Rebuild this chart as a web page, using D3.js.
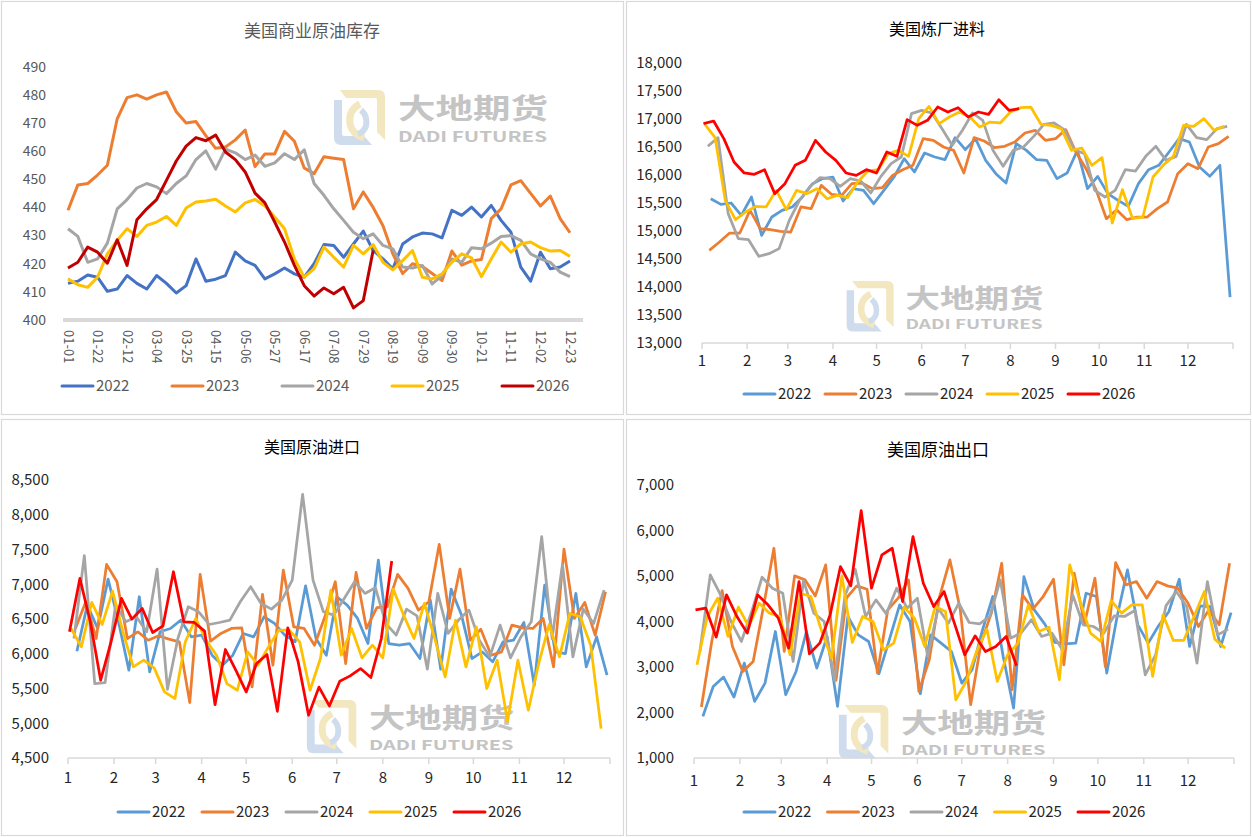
<!DOCTYPE html>
<html>
<head>
<meta charset="utf-8">
<script src="https://cdn.jsdelivr.net/npm/d3@7"></script>
<style>
  body { margin: 0; background: #fff; }
  text { font-family: "Noto Sans CJK SC", "Noto Sans", sans-serif; }
</style>
</head>
<body>
<svg id="chart" width="1252" height="837"></svg>
<script>
// ---- data ----
var years = ["2022", "2023", "2024", "2025", "2026"];
// first weekly report (Friday) of each year, used to place points on the date axis
var firstWeek = ["2022-01-07", "2023-01-06", "2024-01-05", "2025-01-03", "2026-01-02"];
var months = ["1", "2", "3", "4", "5", "6", "7", "8", "9", "10", "11", "12"];

// 美国商业原油库存 (百万桶)
var stocks2022 = [413, 413.8, 416, 415.2, 410.2, 411, 415.8, 413, 411, 415.8, 413, 409.6, 412.2, 421.7, 413.8, 414.5, 415.8, 424.1, 421, 419.4, 414.6, 416.4, 418.5, 416.4, 415.2, 420, 426.8, 426.5, 422.3, 427, 431.6, 424.7, 421.7, 418.2, 427, 429.5, 430.9, 430.6, 429.2, 439, 437.2, 440.1, 436.6, 440.7, 435.4, 431.2, 418.8, 413.8, 424.1, 418.2, 418.8, 421];
var stocks2023 = [439, 448, 448.5, 451.5, 455, 471.5, 479, 480, 478.5, 480, 481, 474, 470, 470.5, 465.5, 461, 461.5, 464, 467.5, 454.5, 459, 459, 467, 463.5, 454, 452, 458, 457.5, 457, 439.5, 445.5, 440, 433.5, 423.5, 416.5, 420, 419, 416.5, 414, 424.5, 419.5, 421, 421.5, 436, 439.5, 448, 449.5, 445, 440.5, 444, 436, 431];
var stocks2024 = [432.4, 429.7, 420.5, 421.7, 427.3, 439.5, 442.8, 446.9, 448.5, 447.3, 444.9, 448.5, 451.2, 457, 460.1, 453.6, 460.7, 459.4, 457, 458.6, 454.6, 455.8, 459.1, 457, 460.5, 448.5, 444.3, 439.5, 435.4, 431.2, 428.9, 430.6, 426.5, 425.3, 418.8, 418.5, 419.4, 412.8, 415.8, 421.7, 420.5, 425.7, 425.3, 427.3, 429.7, 430, 428.3, 423.5, 421.7, 420.5, 417, 415.4];
var stocks2025 = [414.6, 412.5, 411.6, 415.2, 423.5, 428.3, 432.4, 429.7, 433.6, 434.8, 436.8, 433.6, 439.8, 441.9, 442.3, 442.9, 440.5, 438.4, 441.6, 442.8, 440.5, 436.6, 432.4, 421.7, 415.2, 418.2, 425.9, 422.3, 418.8, 426.5, 423.5, 426.8, 420.5, 417.8, 421.1, 424.7, 415.2, 414.6, 416.4, 420.5, 423.5, 422.1, 415.4, 421.7, 427.7, 424.1, 427, 427.7, 425.7, 424.5, 424.7, 422.6];
var stocks2026 = [418.5, 420.5, 425.9, 424.1, 420.2, 428.5, 419.4, 435.6, 439.5, 442.8, 449.6, 456.5, 461.8, 464.8, 463.7, 465.7, 459.7, 457, 452.6, 445.1, 441.6, 434.8, 427.7, 419.4, 412.2, 408.5, 411.4, 409.3, 411.6, 404.3, 406.9, 424.7];

// 美国炼厂进料 (千桶/日)
var runs2022 = [15577, 15476, 15500, 15280, 15607, 14923, 15250, 15369, 15429, 15607, 15845, 15935, 15964, 15536, 15756, 15726, 15488, 15726, 15964, 16292, 16054, 16393, 16321, 16274, 16667, 16452, 16649, 16262, 16024, 15857, 16560, 16440, 16274, 16262, 15935, 16036, 16440, 15756, 15976, 15667, 15548, 15440, 15845, 16095, 16173, 16411, 16649, 16590, 16143, 15976, 16173, 13821];
var runs2023 = [14655, 14804, 14964, 14964, 15369, 15042, 15024, 14994, 14982, 15429, 15399, 15815, 15655, 15637, 15845, 15857, 15756, 15774, 15994, 16095, 16173, 16649, 16619, 16500, 16440, 16036, 16667, 16607, 16488, 16512, 16590, 16750, 16798, 16619, 16649, 16810, 16411, 16113, 15726, 15220, 15381, 15202, 15250, 15250, 15399, 15518, 16024, 16202, 16113, 16500, 16560, 16690];
var runs2024 = [16512, 16667, 15310, 14863, 14845, 14548, 14595, 14685, 15190, 15548, 15786, 15952, 15935, 15798, 15935, 15893, 15679, 15976, 16202, 16321, 17095, 17155, 17107, 16827, 16530, 16798, 17107, 16976, 16440, 16155, 16440, 16500, 16690, 16905, 16929, 16810, 16452, 16381, 15726, 15607, 15726, 16095, 16071, 16333, 16512, 16262, 16333, 16905, 16667, 16631, 16827, 16869];
var runs2025 = [16905, 16667, 15548, 15202, 15339, 15440, 15429, 15726, 15381, 15726, 15667, 15756, 15577, 15637, 15595, 15875, 16071, 16095, 16381, 16440, 16333, 17006, 17226, 16917, 17036, 17125, 17036, 16857, 16946, 16929, 17125, 17202, 17214, 16905, 16887, 16827, 16440, 16482, 16173, 16310, 15143, 15738, 15220, 15250, 15964, 16173, 16333, 16887, 16869, 17006, 16798, 16869];
var runs2026 = [16917, 16964, 16650, 16232, 16036, 16012, 16095, 15667, 15845, 16173, 16262, 16619, 16411, 16262, 16036, 15994, 16095, 16036, 16411, 16333, 16988, 16887, 16976, 17214, 17125, 17202, 17036, 17125, 17083, 17345, 17155, 17185];

// 美国原油进口 (千桶/日)
var imp2022 = [6037, 6700, 6364, 7074, 6460, 5763, 6820, 5739, 6316, 6364, 6484, 6243, 6268, 5979, 5835, 5979, 6292, 6243, 6532, 6436, 6268, 6171, 6978, 6219, 5979, 6820, 6700, 6508, 6147, 7348, 6147, 6123, 6147, 5931, 6772, 5778, 6930, 6556, 5931, 6027, 5883, 6171, 6195, 6450, 5547, 6988, 6027, 6003, 6868, 5811, 6243, 5691];
var imp2023 = [6364, 6748, 6219, 7286, 7036, 6219, 6316, 6195, 6258, 6210, 6171, 5297, 7142, 6181, 6292, 6364, 6373, 5523, 6854, 5835, 7204, 6388, 6364, 6123, 6532, 7036, 5859, 7170, 6364, 6662, 6676, 7142, 6940, 6628, 6748, 7574, 6508, 7218, 6195, 6354, 5979, 6027, 6412, 6373, 6364, 6508, 5811, 7507, 6508, 6738, 6268, 6892];
var imp2024 = [6219, 7411, 5571, 5585, 6700, 6460, 6532, 6316, 7218, 5489, 6219, 6676, 6604, 6421, 6450, 6484, 6748, 6964, 6724, 6642, 6772, 7060, 8294, 7060, 6604, 6556, 6796, 7036, 6868, 6950, 6436, 6268, 6642, 6546, 5778, 6868, 6292, 6484, 6628, 6195, 5955, 6412, 5941, 6243, 6460, 7684, 6219, 7286, 5955, 6642, 6436, 6916];
var imp2025 = [6364, 6099, 6738, 6421, 6902, 6316, 5811, 5907, 5797, 5451, 5355, 6171, 6508, 6195, 5979, 5571, 5475, 6027, 5835, 6099, 6340, 6340, 6171, 5475, 5931, 6916, 5979, 6364, 5941, 6123, 5941, 6930, 6556, 6219, 6724, 6219, 5667, 6484, 5811, 6388, 5499, 5907, 5028, 5907, 5187, 5859, 6421, 5955, 6580, 6532, 6123, 4923];
var imp2026 = [6316, 7084, 6460, 5619, 6171, 6796, 6498, 6652, 6306, 6402, 7180, 6460, 6450, 6325, 5268, 6061, 5763, 5451, 5859, 5989, 5172, 6373, 5883, 5115, 5520, 5249, 5605, 5682, 5787, 5658, 6219, 7334];

// 美国原油出口 (千桶/日)
var exp2022 = [1915, 2573, 2778, 2339, 3085, 2244, 2646, 3780, 2390, 2902, 3780, 2976, 3671, 2134, 4110, 3707, 3561, 2851, 3597, 4366, 4000, 2412, 3707, 3524, 3341, 2646, 2939, 3817, 4549, 3232, 2098, 4988, 4256, 3949, 3539, 3510, 3524, 4622, 4549, 2866, 4110, 5134, 3927, 3524, 3905, 4219, 4929, 3451, 4344, 4329, 3451, 4197];
var exp2023 = [2120, 3561, 4680, 3451, 2902, 3122, 4329, 5610, 3341, 5002, 4915, 4563, 5244, 2705, 4512, 4783, 4710, 2866, 4256, 4512, 4915, 2463, 3159, 4549, 5353, 4256, 2171, 3524, 4183, 5280, 2500, 4585, 4271, 4549, 4929, 3049, 5061, 3963, 4951, 3012, 5295, 4805, 4878, 4512, 4878, 4783, 4732, 4402, 3890, 4256, 3927, 5280];
var exp2024 = [3341, 5024, 4585, 4000, 3561, 4219, 4973, 4732, 4622, 3122, 4900, 4183, 4000, 2705, 4563, 5149, 4110, 4475, 4168, 4732, 4293, 4512, 3232, 4293, 3963, 4402, 3978, 3949, 4110, 4915, 3634, 3744, 4037, 3671, 3744, 3378, 4585, 3927, 3890, 3744, 4124, 4110, 4241, 2829, 3268, 4344, 4659, 4329, 3085, 4878, 3707, 3832];
var exp2025 = [3049, 4110, 4512, 3671, 4315, 3890, 4402, 4183, 4110, 3268, 4622, 4549, 3817, 3195, 5002, 3539, 4110, 4000, 3378, 3524, 4315, 4073, 3451, 4329, 4219, 2280, 2683, 3341, 3832, 2683, 3268, 3524, 4366, 3780, 3876, 2720, 5244, 4439, 3744, 3561, 4461, 4183, 4366, 4366, 2793, 4146, 3583, 3583, 4110, 4659, 3612, 3415];
var exp2026 = [4256, 4293, 3656, 4585, 4110, 3744, 4585, 4366, 4073, 3415, 4878, 3290, 3524, 4146, 5207, 4783, 6437, 4732, 5463, 5610, 4439, 5866, 4841, 4329, 4659, 3963, 3268, 3685, 3341, 3451, 3671, 3027];

// ---- setup ----
var svg = d3.select("#chart");
var axisGrey = "#d9d9d9";
var darkColors = ["#4472C4", "#ED7D31", "#A5A5A5", "#FFC000", "#C00000"];
var brightColors = ["#5B9BD5", "#ED7D31", "#A5A5A5", "#FFC000", "#FF0000"];

// panel frames
var frames = [[1, 1, 622, 413], [626, 1, 624, 413], [1, 419, 622, 416], [626, 419, 624, 416]];
svg.selectAll("rect.frame")
    .data(frames)
    .enter()
    .append("rect")
    .attr("x", d => d[0] + 0.5)
    .attr("y", d => d[1] + 0.5)
    .attr("width", d => d[2])
    .attr("height", d => d[3])
    .attr("fill", "#fff")
    .attr("stroke", axisGrey)
    .attr("stroke-width", 1.2);

// company watermark, drawn under the lines
function watermark(x, y, s) {
    var g = svg.append("g")
        .attr("transform", `translate(${x},${y}) scale(${s})`)
        .attr("opacity", 0.85);
    // logo: blue on left/bottom, yellow on top/right
    g.append("path")
        .attr("d", "M4,10 L4,48 Q4,55 11,55 L42,55 L34,46 L14,46 Q12,46 12,44 L12,10 Z")
        .attr("fill", "#c6d7ea");
    g.append("path")
        .attr("d", "M10,0 L48,0 Q55,0 55,7 L55,50 L47,42 L47,10 Q47,8 45,8 L16,8 Z")
        .attr("fill", "#f1e3b4");
    g.append("path")
        .attr("d", "M30,14 Q18,20 20,34 Q22,44 34,48")
        .attr("fill", "none")
        .attr("stroke", "#f1e3b4")
        .attr("stroke-width", 7);
    g.append("path")
        .attr("d", "M31,20 Q38,26 36,36 Q34,42 28,44")
        .attr("fill", "none")
        .attr("stroke", "#c6d7ea")
        .attr("stroke-width", 6);
    g.append("text")
        .attr("x", 68)
        .attr("y", 29)
        .attr("textLength", 150)
        .attr("lengthAdjust", "spacingAndGlyphs")
        .attr("font-family", "'DejaVu Sans', 'Noto Sans CJK SC', sans-serif")
        .attr("font-size", 28)
        .attr("font-weight", "bold")
        .attr("fill", "#bababa")
        .text("大地期货");
    g.append("text")
        .attr("x", 68)
        .attr("y", 52)
        .attr("textLength", 149)
        .attr("lengthAdjust", "spacingAndGlyphs")
        .attr("font-family", "'DejaVu Sans', sans-serif")
        .attr("font-size", 14)
        .attr("font-weight", "bold")
        .attr("fill", "#bababa")
        .text("DADI FUTURES");
}

function legend(cfg, colors, textFill) {
    var items = svg.append("g").selectAll("g")
        .data(years)
        .enter()
        .append("g")
        .attr("transform", (d, i) => `translate(${cfg.x + i * cfg.gap},${cfg.y})`);
    items.append("line")
        .attr("x1", 0).attr("x2", 31)
        .attr("stroke", (d, i) => colors[i])
        .attr("stroke-width", 3)
        .attr("stroke-linecap", "round");
    items.append("text")
        .attr("x", 34)
        .attr("dy", "0.35em")
        .attr("font-size", 15)
        .attr("fill", textFill)
        .text(d => d);
}

// ---- panel 1: 美国商业原油库存 (weekly categories) ----
var weekLabels = d3.range(52).map(i => d3.timeFormat("%m-%d")(d3.timeDay.offset(new Date(2024, 0, 1), 7 * i)));
watermark(330, 90, 1);

var x1 = d3.scalePoint().domain(weekLabels).range([68, 570]);
var y1 = d3.scaleLinear().domain([400, 490]).range([320, 66.7]);

svg.append("g")
    .selectAll("text")
    .data(y1.ticks(9))
    .enter()
    .append("text")
    .attr("x", 46)
    .attr("y", d => y1(d))
    .attr("dy", "0.35em")
    .attr("text-anchor", "end")
    .attr("font-size", 14)
    .attr("fill", "#595959")
    .text(d => d);

svg.append("line")
    .attr("x1", 63).attr("x2", 583)
    .attr("y1", 320).attr("y2", 320)
    .attr("stroke", axisGrey)
    .attr("stroke-width", 4);

svg.append("g")
    .selectAll("text")
    .data(weekLabels.filter((d, i) => i % 3 === 0))
    .enter()
    .append("text")
    .attr("transform", d => `translate(${x1(d) - 4.5},330) rotate(90)`)
    .attr("font-size", 13)
    .attr("fill", "#595959")
    .text(d => d);

var stockSeries = [stocks2022, stocks2023, stocks2024, stocks2025, stocks2026];
var line1 = d3.line()
    .x((d, i) => x1(weekLabels[i]))
    .y(d => y1(d));
svg.append("g")
    .selectAll("path")
    .data(stockSeries)
    .enter()
    .append("path")
    .attr("d", line1)
    .attr("fill", "none")
    .attr("stroke", (d, i) => darkColors[i])
    .attr("stroke-width", 3)
    .attr("stroke-linejoin", "round");

svg.append("text")
    .attr("x", 312).attr("y", 31)
    .attr("dy", "0.35em")
    .attr("text-anchor", "middle")
    .attr("font-size", 17)
    .attr("fill", "#595959")
    .text("美国商业原油库存");

legend({ x: 62, y: 386, gap: 110 }, darkColors, "#595959");

// ---- panels 2-4: weekly series placed on a calendar axis ----
var parse = d3.timeParse("%Y-%m-%d");
var refStart = new Date(2023, 0, 1);
var refEnd = new Date(2024, 0, 1);

function weekDates(k, n) {
    var d0 = parse(firstWeek[k]);
    var jan1 = new Date(d0.getFullYear(), 0, 1);
    return d3.range(n).map(i => d3.timeDay.offset(refStart, d3.timeDay.count(jan1, d3.timeDay.offset(d0, 7 * i))));
}

function datePanel(p) {
    watermark(p.mark[0], p.mark[1], p.mark[2]);

    var x = d3.scaleTime().domain([refStart, refEnd]).range([p.left, p.right]);
    var y = d3.scaleLinear().domain([p.yMin, p.yMax]).range([p.bottom, p.top]);

    svg.append("g")
        .selectAll("text")
        .data(d3.range(p.yMin, p.yMax + 1, p.step))
        .enter()
        .append("text")
        .attr("x", p.labelRight)
        .attr("y", d => y(d))
        .attr("dy", "0.35em")
        .attr("text-anchor", "end")
        .attr("font-size", 15)
        .attr("fill", "#262626")
        .text(d => d3.format(",")(d));

    var ticks = x.ticks(d3.timeMonth.every(1));
    var ax = svg.append("g");
    ax.append("line")
        .attr("x1", p.left).attr("x2", p.right)
        .attr("y1", p.bottom).attr("y2", p.bottom)
        .attr("stroke", axisGrey)
        .attr("stroke-width", 1.5);
    ax.selectAll("line.tick")
        .data(ticks)
        .enter()
        .append("line")
        .attr("x1", d => x(d)).attr("x2", d => x(d))
        .attr("y1", p.bottom).attr("y2", p.bottom + 6)
        .attr("stroke", axisGrey)
        .attr("stroke-width", 1.5);
    ax.selectAll("text")
        .data(ticks.slice(0, 12))
        .enter()
        .append("text")
        .attr("x", d => x(d))
        .attr("y", p.labelY)
        .attr("dy", "0.35em")
        .attr("text-anchor", "middle")
        .attr("font-size", 15)
        .attr("fill", "#262626")
        .text((d, i) => months[i]);

    var line = d3.line()
        .x(d => x(d.date))
        .y(d => y(d.value));
    svg.append("g")
        .selectAll("path")
        .data(p.series.map((s, k) => {
            var dates = weekDates(k, s.length);
            return s.map((v, i) => ({ date: dates[i], value: v }));
        }))
        .enter()
        .append("path")
        .attr("d", line)
        .attr("fill", "none")
        .attr("stroke", (d, i) => brightColors[i])
        .attr("stroke-width", 2.75)
        .attr("stroke-linejoin", "round");

    svg.append("text")
        .attr("x", p.titleX).attr("y", p.titleY)
        .attr("dy", "0.35em")
        .attr("text-anchor", "middle")
        .attr("font-size", p.titleSize)
        .attr("fill", "#000")
        .text(p.title);

    legend(p.legend, brightColors, "#262626");
}

datePanel({
    title: "美国炼厂进料", titleX: 937, titleY: 29, titleSize: 16,
    left: 702, right: 1233, top: 63, bottom: 343,
    yMin: 13000, yMax: 18000, step: 500, labelRight: 682, labelY: 361,
    series: [runs2022, runs2023, runs2024, runs2025, runs2026],
    mark: [843, 281, 0.92],
    legend: { x: 744, y: 394, gap: 81 }
});

datePanel({
    title: "美国原油进口", titleX: 312, titleY: 447, titleSize: 16,
    left: 68, right: 610, top: 480, bottom: 758,
    yMin: 4500, yMax: 8500, step: 500, labelRight: 49, labelY: 778,
    series: [imp2022, imp2023, imp2024, imp2025, imp2026],
    mark: [303, 700, 0.97],
    legend: { x: 118, y: 812, gap: 84 }
});

datePanel({
    title: "美国原油出口", titleX: 938, titleY: 450, titleSize: 17,
    left: 694, right: 1234, top: 485, bottom: 758,
    yMin: 1000, yMax: 7000, step: 1000, labelRight: 674, labelY: 781,
    series: [exp2022, exp2023, exp2024, exp2025, exp2026],
    mark: [835, 705, 0.97],
    legend: { x: 744, y: 812, gap: 83.5 }
});
</script>
</body>
</html>
